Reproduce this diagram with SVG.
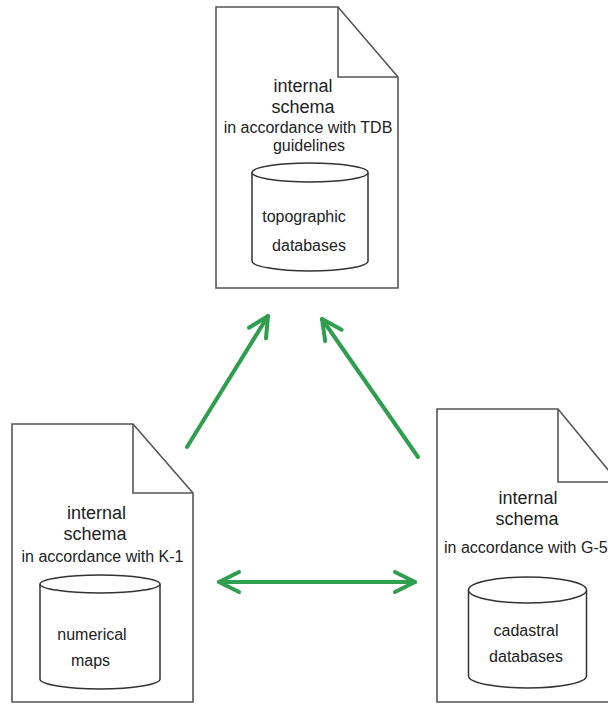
<svg xmlns="http://www.w3.org/2000/svg" width="608" height="704" viewBox="0 0 608 704">
  <style>
    .doc { fill: #ffffff; stroke: #555555; stroke-width: 1.6; stroke-linejoin: miter; }
    .fold { fill: none; stroke: #555555; stroke-width: 1.6; }
    .cyl { fill: #ffffff; stroke: #333333; stroke-width: 1.5; }
    .t18 { font-family: "Liberation Sans", Arial, sans-serif; font-size: 18px; fill: #222222; text-anchor: middle; }
    .t16 { font-family: "Liberation Sans", Arial, sans-serif; font-size: 16px; fill: #222222; text-anchor: middle; }
    .link { fill: none; stroke: #2f9e4f; stroke-width: 4; stroke-linecap: round; }
  </style>
  <defs>
    <marker id="arr" viewBox="-26 -14 30 28" refX="0" refY="0" markerWidth="30" markerHeight="28" markerUnits="userSpaceOnUse" orient="auto-start-reverse">
      <path d="M -20,-10 L 0,0 L -20,10" fill="none" stroke="#2f9e4f" stroke-width="4" stroke-linecap="round" stroke-linejoin="round"/>
    </marker>
  </defs>
  <rect width="608" height="704" fill="#ffffff"/>

  <!-- topographic databases document -->
  <g id="doc-tdb">
    <path class="doc" d="M216,7 H338 L398,77 V288 H216 Z"/>
    <path class="fold" d="M338,7 V77 H398"/>
    <text class="t18" x="303" y="92">internal</text>
    <text class="t18" x="303" y="113">schema</text>
    <text class="t16" x="308" y="133">in accordance with TDB</text>
    <text class="t16" x="309" y="151">guidelines</text>
    <path class="cyl" d="M252,172.5 V261 A58,10 0 0 0 368,261 V172.5"/>
    <ellipse class="cyl" cx="310" cy="172.5" rx="58" ry="9.5"/>
    <text class="t16" x="304" y="222">topographic</text>
    <text class="t16" x="309" y="251">databases</text>
  </g>

  <!-- numerical maps document -->
  <g id="doc-k1">
    <path class="doc" d="M12,424 H133 L193,493 V702 H12 Z"/>
    <path class="fold" d="M133,424 V493 H193"/>
    <text class="t18" x="96.5" y="519">internal</text>
    <text class="t18" x="95" y="540">schema</text>
    <text class="t16" x="102.5" y="562">in accordance with K-1</text>
    <path class="cyl" d="M40,584 V679 A60,10 0 0 0 160,679 V584"/>
    <ellipse class="cyl" cx="100" cy="584" rx="60" ry="9"/>
    <text class="t16" x="92" y="640">numerical</text>
    <text class="t16" x="90.5" y="666">maps</text>
  </g>

  <!-- cadastral databases document -->
  <g id="doc-g5">
    <path class="doc" d="M437,409 H558 L618,482 V702 H437 Z"/>
    <path class="fold" d="M558,409 V482 H618"/>
    <text class="t18" x="528" y="504">internal</text>
    <text class="t18" x="527" y="525">schema</text>
    <text class="t16" x="444" y="553" style="text-anchor:start">in accordance with G-5</text>
    <path class="cyl" d="M468.5,590 V676 A59,12 0 0 0 586.5,676 V590"/>
    <ellipse class="cyl" cx="527.5" cy="590" rx="59" ry="13"/>
    <text class="t16" x="526" y="636">cadastral</text>
    <text class="t16" x="526" y="662">databases</text>
  </g>

  <!-- connectors -->
  <g id="connectors">
    <path class="link" d="M187,447 L268,316" marker-end="url(#arr)"/>
    <path class="link" d="M418,457 L322,319" marker-end="url(#arr)"/>
    <path class="link" d="M219,582 L415,582" marker-start="url(#arr)" marker-end="url(#arr)"/>
  </g>
</svg>
